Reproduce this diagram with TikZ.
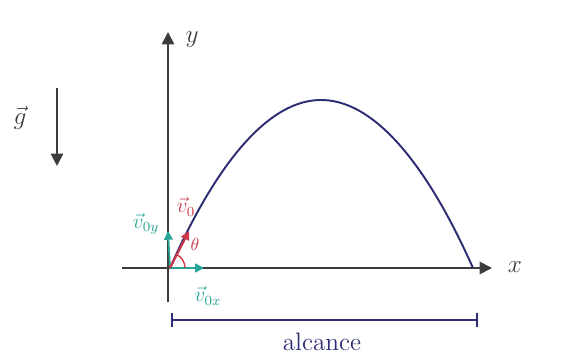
\documentclass[tikz,border=0pt]{standalone}
\usepackage{tikz}
\usetikzlibrary{positioning}
\usetikzlibrary{arrows.meta}
\definecolor{figEje}{RGB}{60,60,60}
\definecolor{figTray}{RGB}{45,45,115}
\definecolor{figVerde}{RGB}{40,165,150}
\definecolor{figRojo}{RGB}{205,55,75}
\tikzset{
  eje/.style={-{Triangle[length=7pt,width=7pt]}, line width=1pt, draw=figEje},
  tray/.style={line width=1.1pt, draw=figTray},
  flechav/.style={-{Triangle[length=5pt,width=5pt]}, line width=1pt, draw=figVerde},
  flechar/.style={-{Triangle[length=5pt,width=5pt]}, line width=1.2pt, draw=figRojo},
  etiq/.style={font=\large, inner sep=1pt},
  cota/.style={{Bar[width=8pt]}-{Bar[width=8pt]}, line width=1pt, draw=figTray}
}
\begin{document}
\begin{tikzpicture}[x=0.02cm, y=-0.02cm]
  \useasboundingbox (0,0) rectangle (563,354);
  % ejes
  \coordinate (o) at (170,268);
  \coordinate (ybot) at (168,302);
  \coordinate (ytop) at (168,32);
  \coordinate (xizq) at (122,268);
  \coordinate (xder) at (492,268);
  \draw[eje] (ybot) -- (ytop);
  \draw[eje] (xizq) -- (xder);
  \node[etiq, text=figEje, font=\Large] (ylab) at (192,40) {$y$};
  \node[etiq, text=figEje, font=\Large] (xlab) at (515,267) {$x$};

  % trayectoria
  \coordinate (cima) at (321,100);
  \coordinate (fin) at (473,268);
  \draw[tray] (o) parabola bend (cima) (fin);

  % velocidad inicial y componentes
  \coordinate (v0) at (189,231);
  \coordinate (v0y) at (168,231);
  \coordinate (v0x) at (204,268);
  \draw[flechav] (o) -- (v0y);
  \draw[flechav] (o) -- (v0x);
  \draw[flechar] (o) -- (v0);
  \draw[figRojo, line width=0.8pt] (o) ++(0:0.3cm) arc[start angle=0, end angle=64, radius=0.3cm];
  \node[etiq, text=figRojo] (v0lab) at (186,207) {$\vec{v}_0$};
  \node[etiq, text=figRojo, font=\normalsize] (tlab) at (195,244) {$\theta$};
  \node[etiq, text=figVerde] (v0ylab) at (146,224) {$\vec{v}_{0y}$};
  \node[etiq, text=figVerde] (v0xlab) at (208,296) {$\vec{v}_{0x}$};

  % gravedad
  \coordinate (gtop) at (57,88);
  \coordinate (gbot) at (57,166);
  \draw[eje] (gtop) -- (gbot);
  \node[etiq, text=figEje, font=\Large] (glab) at (20,118) {$\vec{g}$};

  % alcance
  \coordinate (a1) at (171,320);
  \coordinate (a2) at (478,320);
  \draw[cota] (a1) -- (a2);
  \node[etiq, text=figTray, font=\Large] (alc) at (322,342) {alcance};
\end{tikzpicture}
\end{document}
